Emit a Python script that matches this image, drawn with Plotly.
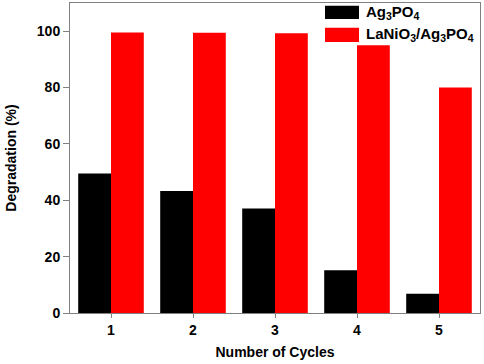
import plotly.graph_objects as go

cycles = ["1", "2", "3", "4", "5"]
ag3po4 = [49.5, 43.3, 37.1, 15.2, 6.8]
lanio3_ag3po4 = [99.5, 99.4, 99.3, 95.0, 80.0]
y_ticks = [0, 20, 40, 60, 80, 100]
series_names = ["Ag<sub>3</sub>PO<sub>4</sub>", "LaNiO<sub>3</sub>/Ag<sub>3</sub>PO<sub>4</sub>"]
series_colors = ["black", "#ff0000"]

FONT = "Liberation Sans, Arial"

fig = go.Figure()
fig.add_trace(go.Bar(x=cycles, y=ag3po4, name=series_names[0],
                     marker=dict(color=series_colors[0], line=dict(width=0)), showlegend=False))
fig.add_trace(go.Bar(x=cycles, y=lanio3_ag3po4, name=series_names[1],
                     marker=dict(color=series_colors[1], line=dict(width=0)), showlegend=False))

W, H = 484, 364
ml, mr, mt, mb = 70, 4, 3, 51
pw, ph = W - ml - mr, H - mt - mb

def px_x(x):
    return (x - ml) / pw

def px_y(y):
    return (H - mb - y) / ph

# custom legend with wide swatches
swatch_rows = [(5.7, 19.0), (27.7, 42.0)]
for (y0, y1), name, col in zip(swatch_rows, series_names, series_colors):
    fig.add_shape(type="rect", xref="paper", yref="paper",
                  x0=px_x(325), x1=px_x(359), y0=px_y(y1), y1=px_y(y0),
                  fillcolor=col, line=dict(width=0))
    fig.add_annotation(xref="paper", yref="paper", x=px_x(364), y=px_y((y0 + y1) / 2),
                       xanchor="left", yanchor="middle", showarrow=False,
                       text=f"<b>{name}</b>",
                       font=dict(family=FONT, size=15, color="black"))

fig.update_layout(
    width=W, height=H,
    margin=dict(l=ml, r=mr, t=mt, b=mb, autoexpand=False),
    plot_bgcolor="white", paper_bgcolor="white",
    barmode="group", bargap=0.2, bargroupgap=0,
    font=dict(family=FONT, size=14, color="black"),
    showlegend=False,
)
fig.update_xaxes(
    range=[-0.5, 4.5], showline=True, linecolor="#808080", linewidth=1, mirror=True,
    ticks="outside", ticklen=4, tickcolor="#808080",
    tickfont=dict(family=FONT, size=14, color="black", weight="bold"),
    title=dict(text="<b>Number of Cycles</b>", font=dict(family=FONT, size=14), standoff=10),
    showgrid=False, automargin=False,
)
fig.update_yaxes(
    range=[0, 110], tickvals=y_ticks, showline=True, linecolor="#808080", linewidth=1, mirror=True,
    ticks="outside", ticklen=6, tickcolor="#808080",
    tickfont=dict(family=FONT, size=14, color="black", weight="bold"),
    title=dict(text="<b>Degradation (%)</b>", font=dict(family=FONT, size=14), standoff=16),
    showgrid=False, zeroline=False, automargin=False,
)
fig.write_html("out.html", config={"displayModeBar": False},
               post_script="document.body.style.margin='0';")
